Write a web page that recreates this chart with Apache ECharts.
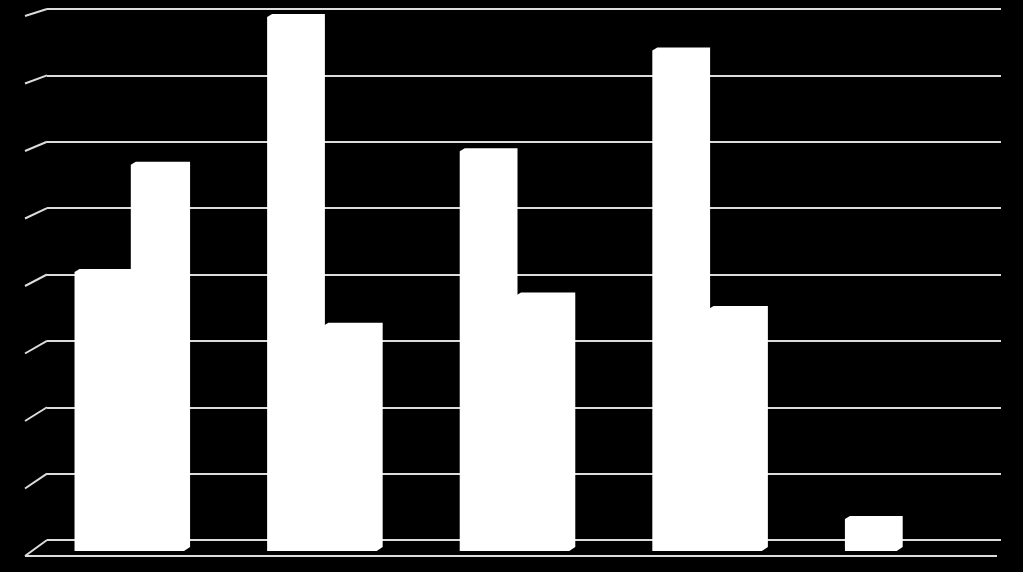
<!DOCTYPE html>
<html>
<head>
<meta charset="utf-8">
<style>
html,body{margin:0;padding:0;background:#000;}
#chart{width:1023px;height:572px;}
</style>
<script src="https://cdn.jsdelivr.net/npm/echarts@6/dist/echarts.min.js"></script>
</head>
<body>
<div id="chart"></div>
<script>
// ---- data ----
const categories = ['1', '2', '3', '4', '5'];
const seriesA = [4.2, 8.0, 6.0, 7.5, 0.52];
const seriesB = [5.8, 3.4, 3.85, 3.65, 0];
const yTicks = [0, 1, 2, 3, 4, 5, 6, 7, 8];

// ---- style constants ----
const LINE = '#dcdcdc';
const BAR = '#ffffff';
const Y_MAX = 8;

const chart = echarts.init(document.getElementById('chart'));

function barRenderer(slot) {
  return function (params, api) {
    const i = api.value(0);
    const v = api.value(1);
    if (!v) return null;
    const base = api.coord([i, 0]);
    const top = api.coord([i, v]);
    const band = api.size([1, 0])[0];
    const w = band * 0.3;
    let x0 = base[0] - w + slot * w;
    let x1 = x0 + w;
    if (slot === 1) x0 -= 1.5;
    const yb = base[1], yt = top[1];
    const lastInPair = slot === 1 || !seriesB[i];
    const pts = [[x0, yt + 3], [x0 + 5, yt], [x1, yt]];
    if (lastInPair) {
      pts.push([x1, yb - 4], [x1 - 6, yb]);
    } else {
      pts.push([x1, yb]);
    }
    pts.push([x0, yb]);
    return {
      type: 'polygon',
      shape: { points: pts },
      style: { fill: BAR }
    };
  };
}

function wallRenderer(params, api) {
  const v = api.value(1);
  const p = api.coord([0, v]);
  const right = api.coord([1, v]);
  const dx = -22;
  const dy = 7 + 9 * (1 - v / Y_MAX);
  const children = [{
    type: 'line',
    shape: { x1: p[0], y1: p[1], x2: p[0] + dx, y2: p[1] + dy },
    style: { stroke: LINE, lineWidth: 2 }
  }];
  if (v === 0) {
    children.push({
      type: 'line',
      shape: { x1: p[0] + dx, y1: p[1] + dy, x2: right[0] - 4, y2: p[1] + dy },
      style: { stroke: LINE, lineWidth: 2 }
    });
  }
  return { type: 'group', children: children };
}

const option = {
  backgroundColor: '#000',
  animation: false,
  grid: [
    { left: 47, right: 22, top: 9, bottom: 32 },
    { left: 36, right: 24, top: 14, bottom: 21 }
  ],
  xAxis: [
    { gridIndex: 0, type: 'value', min: 0, max: 1, show: false },
    { gridIndex: 1, type: 'category', data: categories, show: false }
  ],
  yAxis: [
    {
      gridIndex: 0, type: 'value', min: 0, max: Y_MAX, interval: 1,
      axisLine: { show: false }, axisTick: { show: false }, axisLabel: { show: false },
      splitLine: { show: true, lineStyle: { color: LINE, width: 2 } }
    },
    {
      gridIndex: 1, type: 'value', min: 0, max: Y_MAX, interval: 1, show: false,
      splitLine: { show: false }
    }
  ],
  series: [
    {
      type: 'custom', xAxisIndex: 0, yAxisIndex: 0,
      renderItem: wallRenderer,
      data: yTicks.map(v => [0, v]),
      z: 1
    },
    {
      name: 'A', type: 'custom', xAxisIndex: 1, yAxisIndex: 1,
      renderItem: barRenderer(0),
      data: seriesA.map((v, i) => [i, v]),
      z: 5
    },
    {
      name: 'B', type: 'custom', xAxisIndex: 1, yAxisIndex: 1,
      renderItem: barRenderer(1),
      data: seriesB.map((v, i) => [i, v]),
      z: 5
    }
  ]
};
chart.setOption(option);
</script>
</body>
</html>
